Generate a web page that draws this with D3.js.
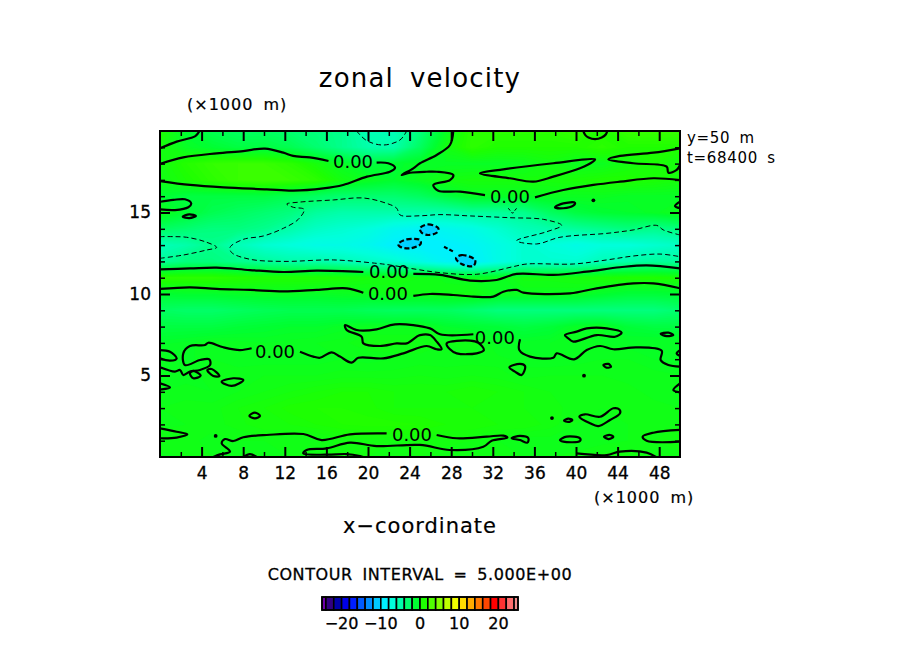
<!DOCTYPE html>
<html>
<head>
<meta charset="utf-8">
<title>zonal velocity</title>
<script src="https://d3js.org/d3.v7.min.js"></script>
<style>
  html, body { margin: 0; background: #fff; }
  svg { display: block; }
  text { font-family: "DejaVu Sans", sans-serif; fill: #000; }
</style>
</head>
<body>
<svg id="chart" width="904" height="654"></svg>
<script>
// grid positions of the field, x and y in 1000 m
var gridX = [0, 2.5, 5, 7.5, 10, 12.5, 15, 17.5, 20, 22.5, 25, 27.5, 30, 32.5, 35, 37.5, 40, 42.5, 45, 47.5, 50];
var gridY = [20, 19, 18, 17, 16, 15, 14, 13, 12, 11, 10, 9, 8, 7, 6, 5, 4, 3, 2, 1, 0];

// zonal velocity, one row per gridY
var row20 = [1, -1, -2, -2.5, -2.5, -3, -3.5, -4, -5.5, -5.5, -3.5, -0.5, 1.5, 1.5, 1.5, 1.5, 2, 1, 2, 2, 2];
var row19 = [0.5, -0.5, -1, -1.5, -1.5, -2, -3, -4, -5, -5, -2.5, 0.3, 1.5, 1, 1, 1, 1, 1.5, 1, 1, 1];
var row18 = [0.3, 1.2, 1.8, 2, 2, 1.5, 0.5, -0.5, -1.5, -1, -0.5, -0.5, -0.5, -0.5, -0.3, 0.2, -0.3, -0.3, 0.3, 0.8, 0.3];
var row17 = [0.1, 0.8, 1.5, 2, 2.2, 2, 1.5, 0.3, -0.3, -0.8, -0.3, 0.3, 0.5, 0.5, 0.5, 0.5, 0.7, 1, 1, 0.8, 0.5];
var row16 = [-1, -1.5, -1.5, -1.5, -1.5, -2, -2.5, -3, -3, -3, -2.5, -1.5, -0.5, -0.5, -0.5, -0.3, -0.3, -0.3, -0.5, -0.5, -0.5];
var row15 = [0, -1, -2, -2.5, -3, -3.5, -4.5, -5, -5, -5, -5, -5, -4.5, -4.5, -4, -2.5, -1.5, -1, -0.8, -0.5, 0];
var row14 = [-2.5, -3, -3.5, -3.5, -4, -5, -6, -6.5, -7, -8, -8.5, -8, -7.5, -6.5, -5.5, -5, -4.5, -4, -3.5, -4, -3.5];
var row13 = [-5.5, -5, -4, -5.5, -6.5, -7, -7.5, -7.5, -8, -9, -9, -9, -8.5, -7.5, -6.5, -7, -7.5, -7, -7, -6.5, -6];
var row12 = [-4.5, -3.5, -3.5, -4, -4.5, -5, -5, -5.5, -6, -6.5, -7.5, -8.5, -9, -7.5, -6.5, -6.5, -6.5, -5.5, -5, -4.5, -4.5];
var row11 = [1.5, 1.5, 1.5, 1.2, 1, 1, 1, 0.8, 0.5, 0.3, 0.2, -0.1, -0.3, -0.3, 0.3, 0.3, 0.5, 0.8, 1, 1, 0.8];
var row10 = [-1, -0.8, -0.8, -0.6, -0.5, -0.5, -0.6, -0.4, -0.3, 0.1, 0, 0.2, 0.3, -0.2, -0.2, -0.2, -0.3, -0.8, -1.2, -1.2, -1];
var row9 = [-2.5, -2.8, -2.8, -2.5, -2.2, -2, -2, -2, -2.3, -2.5, -2.5, -2.5, -3, -3.5, -3.5, -3.5, -3.5, -3.5, -3.5, -3.5, -3];
var row8 = [-1.5, -1.5, -1.5, -1.2, -1, -0.8, -0.8, -0.5, -0.3, -0.3, -0.2, -0.8, -1, -1.2, -1.5, -1.2, -0.5, -0.3, -1.2, -1.5, -1.5];
var row7 = [-0.7, -0.5, -0.2, -0.3, -0.4, -0.3, -0.2, -0.1, 0.3, 0.3, 0.2, 0, 0.2, -0.5, -0.5, -0.4, -0.2, -0.4, -0.5, -0.4, -0.4];
var row6 = [-0.2, -0.5, -0.2, -0.3, -0.3, -0.3, -0.3, -0.2, -0.3, -0.2, -0.1, -0.1, -0.1, -0.1, -0.3, -0.4, -0.3, -0.2, -0.2, -0.4, -0.5];
var row5 = [-0.3, -0.3, -0.1, -0.1, 0, 0, 0, 0.1, 0.1, 0.1, 0.2, 0.1, 0.2, 0.1, -0.1, 0, 0, 0, -0.1, -0.1, -0.2];
var row4 = [-0.2, -0.1, -0.2, 0, 0.2, 0.4, 0.6, 0.8, 0.8, 0.6, 0.6, 0.6, 0.8, 0.6, 0.4, 0.2, 0.2, 0.1, 0.1, -0.1, -0.2];
var row3 = [0, 0.1, 0.1, 0.4, 0.6, 0.9, 1, 1, 0.9, 0.6, 0.6, 0.6, 0.6, 0.6, 0.4, 0.3, 0.1, 0, 0, 0.1, 0];
var row2 = [-0.1, 0, 0.1, 0.3, 0.6, 0.6, 0.8, 1, 1.1, 1.1, 1, 0.8, 0.8, 0.6, 0.6, 0.3, 0, -0.1, 0, 0.1, 0.2];
var row1 = [0.2, 0.1, -0.1, 0, 0, 0, 0, 0.3, 0.3, 0.2, 0.4, 0.3, 0.2, 0, -0.2, -0.1, -0.2, -0.1, 0, 0.2, 0.4];
var row0 = [-0.1, 0, 0, -0.1, -0.1, 0, 0.1, 0.3, 0.2, 0.2, 0.2, 0, 0, 0, 0, 0, 0.1, 0.3, 0.3, 0.2, 0.1];
var fieldRows = [row20, row19, row18, row17, row16, row15, row14, row13, row12, row11, row10, row9, row8, row7, row6, row5, row4, row3, row2, row1, row0];

// colour bar, edges of the cells and the colours
var barEdges = [-25, -24, -22, -20, -18, -16, -14, -12, -10, -8, -6, -4, -2, 0, 2, 4, 6, 8, 10, 12, 14, 16, 18, 20, 22, 24, 25];
var barColors = ["#6e00aa", "#320082", "#0000aa", "#0000e6", "#001eff", "#005aff", "#008cff", "#00c8ff", "#00f0ff", "#00ffdc", "#00ffaa", "#00ff6e", "#00ff32",
  "#1eff00", "#50ff00", "#82ff00", "#beff00", "#f0ff00", "#ffdc00", "#ffaa00", "#ff7800", "#ff4600", "#ff0000", "#ff3232", "#ff6e6e", "#f08c8c"];
var barTicks = [-20, -10, 0, 10, 20];

// tick values
var xMajor = [4, 8, 12, 16, 20, 24, 28, 32, 36, 40, 44, 48];
var xMinor = [2, 6, 10, 14, 18, 22, 26, 30, 34, 38, 42, 46];
var yMajor = [5, 10, 15];
var yMinor = [1, 2, 3, 4, 6, 7, 8, 9, 11, 12, 13, 14, 16, 17, 18, 19];

// zero contours that run off the frame or stop at a label
var zeroOpen = [
  [[0, 18.94], [1.6, 19.35], [3.4, 19.69], [3.8, 20]],
  [[0, 17.98], [2.24, 18.38], [5.45, 18.63], [8, 18.77], [10.1, 18.92], [11.86, 18.67], [12.8, 18.47], [14.4, 18.38], [16.2, 18.16]],
  [[20.83, 18.06], [21.95, 18.02], [22.6, 17.75], [22.1, 17.5], [19.9, 17.2], [17.6, 16.69], [15.7, 16.48], [12.8, 16.34], [10.26, 16.42], [6.1, 16.54], [2.9, 16.69], [0, 16.93]],
  [[0, 15.66], [1.28, 15.77], [2.4, 15.81], [3, 15.56], [2.72, 15.32], [1.44, 15.15], [0, 15.19]],
  [[28.2, 20], [27.88, 19.14], [26.6, 18.53], [25, 18.02], [24.36, 17.71], [23.24, 17.3], [24.04, 17.44], [25.64, 17.5], [26.6, 17.5], [28.2, 17.3], [27.88, 16.99], [26.28, 16.69], [26.76, 16.34], [28.85, 16.28], [31.25, 16.07]],
  [[36.06, 15.93], [38.78, 16.38], [41.67, 16.69], [44.23, 16.89], [47.44, 17.1], [50, 16.99]],
  [[50, 18.94], [47.44, 18.67], [44.23, 18.47], [43.11, 18.26], [45.51, 18.02], [48.72, 17.81], [48.88, 17.44], [49.68, 17.61], [50, 17.91]],
  [[50, 15.66], [49.52, 15.4], [50, 15.26]],
  [[40.7, 20], [40.9, 19.75], [41.2, 19.6], [41.83, 19.5], [42.47, 19.6], [42.88, 19.8], [43, 20]],
  [[0, 11.51], [2.88, 11.57], [5.45, 11.62], [8.65, 11.47], [11.86, 11.35], [15.06, 11.43], [19.55, 11.35]],
  [[24.36, 11.23], [26.92, 11.17], [29.81, 10.82], [32.37, 10.86], [34.29, 11.23], [37.82, 11.17], [41.03, 11.37], [44.23, 11.64], [46.79, 11.76], [50, 11.57]],
  [[0, 10.31], [2.88, 10.41], [5.45, 10.31], [8.65, 10.25], [11.86, 10.16], [15.06, 10.25], [17.95, 10.35], [19.55, 10.08]],
  [[24.36, 9.88], [25.96, 10], [28.2, 9.94], [30.13, 9.84], [32.05, 9.84], [33.01, 10.14], [34.29, 10.25], [34.94, 10.08], [39.42, 10.04], [41.99, 10.35], [45.51, 10.65], [47.44, 10.65], [50, 10.35]],
  [[8.81, 6.67], [7.69, 6.56], [6.09, 6.73], [4.65, 7.01], [4.33, 6.87], [2.88, 6.81], [2.24, 6.36], [2.4, 5.64], [3.85, 5.95], [4.74, 5.99], [4.81, 5.64], [3.85, 5.34], [2.88, 5.24], [2.24, 5.03], [1.92, 5.34], [1.44, 5.24], [0, 5.5]],
  [[13.46, 6.46], [14.74, 6.16], [15.38, 6.09], [16.51, 6.42], [17.31, 6.16], [18.43, 5.79], [19.07, 6.09], [21.47, 6.05], [23.4, 6.36], [25.64, 6.81], [26.6, 6.61], [27.08, 6.61], [26.6, 7.08], [25.96, 7.48], [25, 7.48], [24.68, 7.38], [23.72, 6.97], [22.76, 6.97], [21.15, 6.81], [19.55, 6.97], [19.39, 7.38], [17.95, 7.79], [17.79, 8.1], [18.91, 7.79], [20.83, 7.83], [22.6, 8.14], [25.96, 7.89], [26.92, 7.53], [30.13, 7.53]],
  [[34.62, 7.22], [34.55, 6.56], [35.58, 6.16], [37.82, 6.09], [38.14, 6.36], [39.81, 5.99], [41.03, 6.56], [42.31, 6.81], [43.59, 6.61], [45.83, 6.73], [48.24, 6.52], [48.14, 5.95], [48.88, 5.64], [50, 5.54]],
  [[50, 6.56], [49.68, 6.36], [50, 6.2]],
  [[50, 4.52], [49.36, 4.11], [50, 3.97]],
  [[0, 6.56], [0.96, 6.46], [1.6, 6.05], [0.96, 5.91], [0, 6.05]],
  [[0, 4.52], [0.96, 4.27], [0.16, 4.15], [0, 4.15]],
  [[0, 1.76], [1.6, 1.55], [2.63, 1.39], [1.6, 1.19], [0, 1.15]],
  [[50, 1.66], [47.44, 1.49], [46.41, 1.25], [46.79, 1], [50, 0.94]],
  [[26.6, 1.35], [28.53, 1.15], [31.41, 1.25], [33.01, 1.31], [33.4, 1.19], [31.89, 1], [31.09, 0.63], [27.88, 0.43], [25, 0.74], [20.83, 0.67], [18.27, 0.88], [16.03, 0.53], [14.1, 0.43], [13.78, 0.22], [16.03, 0.14], [17.95, 0.18], [19.23, 0.06], [19.55, 0]],
  [[21.79, 1.45], [18.27, 1.39], [15.54, 1.04], [13.78, 1.41], [10.26, 1.35], [8.01, 1.21], [7.05, 0.98], [6.25, 1.1], [5.93, 0.84], [6.73, 0.33], [5.77, 0.16], [5.13, 0]],
  [[8.01, 0], [8.65, 0.18], [9.3, 0]],
  [[40.06, 0.22], [42.95, 0.12], [44.23, 0.33], [46.79, 0.27], [47.69, 0]]
];

// zero contours that close on themselves
var zeroClosed = [
  [[2.18, 14.74], [2.82, 14.89], [3.46, 14.79], [2.82, 14.66]],
  [[30.77, 17.4], [33.01, 17.65], [37.82, 18.02], [41.83, 18.26], [41.6, 18.1], [40.38, 17.71], [37.82, 17.2], [35.9, 16.89], [33.65, 17.1]],
  [[37.98, 15.32], [38.78, 15.56], [39.9, 15.6], [39.74, 15.42], [38.78, 15.26]],
  [[27.56, 6.97], [29.81, 7.14], [30.61, 7.01], [31.15, 6.56], [30.45, 6.36], [28.53, 6.36], [27.88, 6.61]],
  [[38.94, 7.48], [40.06, 7.69], [41.03, 7.89], [42.95, 7.89], [44.39, 7.63], [43.75, 7.38], [41.99, 7.48], [39.74, 7.08], [39.26, 7.28]],
  [[48.14, 7.55], [48.88, 7.63], [49.36, 7.48], [48.72, 7.42]],
  [[33.59, 5.5], [34.62, 5.71], [35.1, 5.58], [34.78, 5.03], [34.13, 5.24]],
  [[42.63, 5.64], [43.11, 5.71], [43.37, 5.54], [42.95, 5.48]],
  [[38.85, 2.23], [39.26, 2.35], [39.65, 2.27], [39.26, 2.15]],
  [[40.32, 2.47], [40.87, 2.62], [42.31, 2.47], [43.59, 2.99], [44.17, 2.92], [44.23, 2.68], [43.27, 2.27], [42.15, 1.9], [41.35, 2.07]],
  [[8.59, 2.52], [9.13, 2.72], [9.62, 2.52], [9.13, 2.37]],
  [[5.93, 4.62], [7.05, 4.83], [8.01, 4.72], [6.89, 4.36]],
  [[4.55, 5.34], [4.97, 5.4], [5.71, 4.97], [5.13, 4.97]],
  [[2.88, 5.13], [3.21, 5.28], [3.91, 4.99], [3.21, 4.83]],
  [[33.81, 1.15], [34.62, 1.29], [35.42, 1.15], [35.32, 0.88], [34.62, 1.04]],
  [[38.46, 1.04], [39.1, 1.25], [40.38, 1.15], [40.38, 0.98], [38.78, 0.94]],
  [[42.69, 1.25], [43.27, 1.35], [43.59, 1.23], [43.11, 1.1]]
];

// very small zero contours, shown as dots
var zeroDots = [[41.67, 15.75], [40.77, 4.99], [37.69, 2.39], [5.35, 1.29]];

// the -5 contours, thin dashes
var minusFive = [
  [[18.9, 20], [19.87, 19.41], [21.47, 19.14], [23.08, 19.45], [23.72, 20]],
  [[0, 12.19], [2.24, 12.39], [4.5, 12.7], [5.45, 12.86], [4.33, 13.21], [2.56, 13.48], [1.28, 13.52], [0, 13.52]],
  [[50, 13.62], [48.4, 13.93], [47.76, 14.21], [45.5, 13.93], [42.95, 13.72], [38.46, 13.48], [36.22, 13.07], [34.29, 13.27], [37.18, 13.82], [38.62, 14.21], [36.86, 14.58], [33.65, 14.68], [29.81, 14.79], [26.92, 14.87], [25, 14.8], [23.08, 14.85], [22.76, 15.26], [21.79, 15.56], [19.55, 15.89], [16.67, 15.77], [13.46, 15.64], [12.18, 15.52], [12.82, 15.32], [13.85, 15.19], [13.3, 14.58], [11.86, 14.03], [9.94, 13.56], [8, 13.35], [6.73, 12.86], [6.89, 12.54], [8.65, 12.13], [11.86, 12], [16.67, 12.09], [20.83, 11.88], [22.1, 11.78], [24.68, 11.51], [26.92, 11.31], [30.45, 11.21], [33.97, 11.68], [35.26, 11.84], [39.74, 11.84], [42.95, 12.09], [45.5, 12.33], [48.08, 12.45], [50, 12.29]]
];
var minusFiveTick = [[[33.49, 15.26], [33.9, 14.95], [34.29, 15.26]]];

// the -10 contours, thick dashes
var minusTen = [
  [[22.9, 13.07], [23.72, 13.35], [25, 13.31], [25.06, 13.07], [24.04, 12.8], [23.08, 12.9]],
  [[25, 14.03], [25.8, 14.27], [26.76, 14.03], [26.6, 13.76], [25.8, 13.62], [25.16, 13.76]],
  [[28.46, 12.19], [29, 12.39], [30.29, 12.09], [30.13, 11.72], [29, 11.84]]
];
var minusTenOpen = [[[27.31, 12.9], [28.2, 12.6]]];

// where the 0.00 labels sit
var labelX = [18.56, 33.65, 22.02, 21.92, 11.06, 32.2, 24.23];
var labelY = [18.1, 16.01, 11.35, 10, 6.5, 7.36, 1.35];

var plotLeft = 160, plotRight = 680, plotTop = 131, plotBottom = 457;

var x = d3.scaleLinear().domain([0, 50]).range([plotLeft, plotRight]);
var y = d3.scaleLinear().domain([0, 20]).range([plotBottom, plotTop]);

// centre of each bar cell gets its colour, the field blends between them
var barCentres = d3.pairs(barEdges).map(function(p) { return (p[0] + p[1]) / 2; });
var color = d3.scaleLinear().domain(barCentres).range(barColors).clamp(true);

var svg = d3.select("#chart");

svg.append("clipPath").attr("id", "plotClip").append("rect")
  .attr("x", plotLeft).attr("y", plotTop)
  .attr("width", plotRight - plotLeft).attr("height", plotBottom - plotTop);

var plot = svg.append("g").attr("clip-path", "url(#plotClip)");

// field: nested d3.contours bands
var nx = gridX.length, ny = gridY.length;
var flat = [];
fieldRows.forEach(function(r) { r.forEach(function(v) { flat.push(v); }); });

var bandStep = 0.2;
var thresholds = d3.range(-14, 5, bandStep);
var bands = d3.contours().size([nx, ny]).thresholds(thresholds)(flat);

// contour coordinates have grid point i at i + 0.5
var gridToX = d3.scaleLinear().domain([0.5, nx - 0.5]).range([x(0), x(50)]);
var gridToY = d3.scaleLinear().domain([0.5, ny - 0.5]).range([y(20), y(0)]);
var bandPath = d3.geoPath(d3.geoTransform({
  point: function(px, py) { this.stream.point(gridToX(px), gridToY(py)); }
}));

plot.append("rect")
  .attr("x", plotLeft).attr("y", plotTop)
  .attr("width", plotRight - plotLeft).attr("height", plotBottom - plotTop)
  .attr("fill", color(-14));

plot.selectAll("path.band").data(bands).enter().append("path")
  .attr("class", "band")
  .attr("d", bandPath)
  .attr("fill", function(d) { return color(d.value + bandStep / 2); });

// contour lines
var openLine = d3.line().x(function(d) { return x(d[0]); }).y(function(d) { return y(d[1]); }).curve(d3.curveCatmullRom.alpha(0.5));
var closedLine = d3.line().x(function(d) { return x(d[0]); }).y(function(d) { return y(d[1]); }).curve(d3.curveCatmullRomClosed.alpha(0.5));
var straightLine = d3.line().x(function(d) { return x(d[0]); }).y(function(d) { return y(d[1]); });

function drawLines(list, gen, width, dash, fill) {
  plot.append("g").selectAll("path").data(list).enter().append("path")
    .attr("d", gen)
    .attr("fill", fill || "none")
    .attr("stroke", "#000")
    .attr("stroke-width", width)
    .attr("stroke-dasharray", dash);
}

drawLines(zeroOpen, openLine, 2.2, null);
drawLines(zeroClosed, closedLine, 2.2, null);
drawLines(minusFive, openLine, 1, "5,3");
drawLines(minusFiveTick, straightLine, 1, "3,2");
drawLines(minusTen, closedLine, 2.2, "5,2.5", color(-10.5));
drawLines(minusTenOpen, openLine, 2.2, "4,2");

plot.append("g").selectAll("circle").data(zeroDots).enter().append("circle")
  .attr("cx", function(d) { return x(d[0]); })
  .attr("cy", function(d) { return y(d[1]); })
  .attr("r", 1.9)
  .attr("fill", "#000");

svg.append("g").selectAll("text").data(labelX).enter().append("text")
  .attr("x", function(d) { return x(d); })
  .attr("y", function(d, i) { return y(labelY[i]); })
  .attr("dy", "0.36em")
  .attr("text-anchor", "middle")
  .style("font-size", "18px")
  .text("0.00");

// axes, ticks point into the plot
function tickStyle(g, size) {
  g.select(".domain").remove();
  g.selectAll("line").attr("stroke", "#000").attr("stroke-width", size);
  g.selectAll("text").style("font-family", '"DejaVu Sans", sans-serif').style("font-size", "17px").attr("stroke", "#000").attr("stroke-width", 0.3);
}

function noLabels(g) { g.selectAll("text").remove(); }

svg.append("g").attr("transform", "translate(0," + plotBottom + ")")
  .call(d3.axisBottom(x).tickValues(xMajor).tickSize(-10).tickFormat(d3.format("d")))
  .call(tickStyle, 2)
  .selectAll("text").attr("y", 10).attr("dy", "0.71em");
svg.append("g").attr("transform", "translate(0," + plotBottom + ")")
  .call(d3.axisBottom(x).tickValues(xMinor).tickSize(-5)).call(tickStyle, 1.5).call(noLabels);
svg.append("g").attr("transform", "translate(0," + plotTop + ")")
  .call(d3.axisTop(x).tickValues(xMajor).tickSize(-10)).call(tickStyle, 2).call(noLabels);
svg.append("g").attr("transform", "translate(0," + plotTop + ")")
  .call(d3.axisTop(x).tickValues(xMinor).tickSize(-5)).call(tickStyle, 1.5).call(noLabels);

svg.append("g").attr("transform", "translate(" + plotLeft + ",0)")
  .call(d3.axisLeft(y).tickValues(yMajor).tickSize(-10).tickPadding(9).tickFormat(d3.format("d")))
  .call(tickStyle, 2);
svg.append("g").attr("transform", "translate(" + plotLeft + ",0)")
  .call(d3.axisLeft(y).tickValues(yMinor).tickSize(-5)).call(tickStyle, 1.5).call(noLabels);
svg.append("g").attr("transform", "translate(" + plotRight + ",0)")
  .call(d3.axisRight(y).tickValues(yMajor).tickSize(-10)).call(tickStyle, 2).call(noLabels);
svg.append("g").attr("transform", "translate(" + plotRight + ",0)")
  .call(d3.axisRight(y).tickValues(yMinor).tickSize(-5)).call(tickStyle, 1.5).call(noLabels);

svg.append("rect")
  .attr("x", plotLeft).attr("y", plotTop)
  .attr("width", plotRight - plotLeft).attr("height", plotBottom - plotTop)
  .attr("fill", "none").attr("stroke", "#000").attr("stroke-width", 2);

// titles and notes
function note(px, py, str, size, spacing, anchor, weight) {
  svg.append("text")
    .attr("x", px).attr("y", py)
    .attr("text-anchor", anchor || "start")
    .attr("stroke", "#000").attr("stroke-width", weight || 0)
    .style("font-size", size + "px")
    .style("letter-spacing", spacing + "px")
    .style("word-spacing", (size * 0.25) + "px")
    .text(str);
}

note(420, 87, "zonal velocity", 26, 1.2, "middle");
note(187, 110, "(×1000 m)", 16, 1, "start", 0.2);
note(594, 503, "(×1000 m)", 16, 1, "start", 0.2);
note(687, 143, "y=50 m", 15, 0.7);
note(687, 163, "t=68400 s", 15, 0.7);
note(420, 533, "x−coordinate", 21, 1, "middle", 0.2);
note(420, 580, "CONTOUR INTERVAL = 5.000E+00", 16, 0.6, "middle", 0.3);

// colour bar
var barX = d3.scaleLinear().domain([-25, 25]).range([322, 518]);
var barTop = 597, barHeight = 13;

svg.append("g").selectAll("rect").data(d3.pairs(barEdges)).enter().append("rect")
  .attr("x", function(d) { return barX(d[0]); })
  .attr("y", barTop)
  .attr("width", function(d) { return barX(d[1]) - barX(d[0]); })
  .attr("height", barHeight)
  .attr("fill", function(d, i) { return barColors[i]; })
  .attr("stroke", "#000")
  .attr("stroke-width", 1.6);

svg.append("rect")
  .attr("x", barX(-25)).attr("y", barTop)
  .attr("width", barX(25) - barX(-25)).attr("height", barHeight)
  .attr("fill", "none").attr("stroke", "#000").attr("stroke-width", 1.6);

svg.append("g").selectAll("text").data(barTicks).enter().append("text")
  .attr("x", function(d) { return barX(d); })
  .attr("y", 629)
  .attr("text-anchor", "middle")
  .attr("stroke", "#000").attr("stroke-width", 0.3)
  .style("font-size", "16px")
  .text(function(d) { return d < 0 ? "−" + (-d) : d; });
</script>
</body>
</html>
